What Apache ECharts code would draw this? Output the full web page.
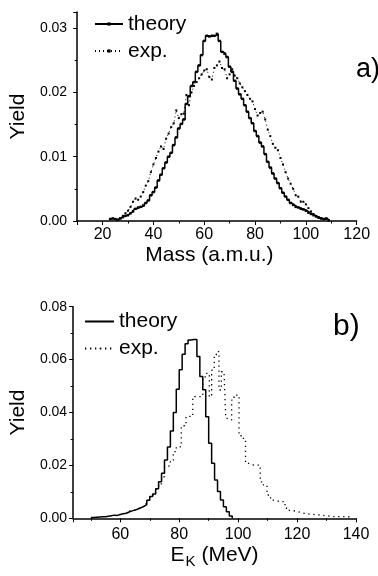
<!DOCTYPE html>
<html><head><meta charset="utf-8">
<script src="https://cdn.jsdelivr.net/npm/echarts@6/dist/echarts.min.js"></script>
<style>html,body{margin:0;padding:0;background:#fff}#c{width:378px;height:576px}</style>
</head><body><div id="c"></div>
<script>
// Panel a) Mass distribution
const massTheory = [23,24,25,26,27,28,29,30,31,32,33,34,35,36,37,38,39,40,41,42,43,44,45,46,47,48,49,50,51,52,53,54,55,56,57,58,59,60,61,62,63,64,65,66,67,68,69,70,71,72,73,74,75,76,77,78,79,80,81,82,83,84,85,86,87,88,89,90,91,92,93,94,95,96,97,98,99,100,101,102,103,104,105,106,107,108,109];
const yieldTheoryA = [0.0003,0.0004,0.0003,0.0002,0.0004,0.0006,0.0008,0.0009,0.0012,0.0015,0.0019,0.0021,0.0022,0.0024,0.0028,0.0032,0.0040,0.0045,0.0052,0.0063,0.0072,0.0082,0.0091,0.0100,0.0106,0.0118,0.0130,0.0144,0.0151,0.0158,0.0182,0.0194,0.0210,0.0216,0.0232,0.0242,0.0258,0.0280,0.0288,0.0287,0.0288,0.0288,0.0291,0.0280,0.0263,0.0260,0.0255,0.0240,0.0232,0.0218,0.0206,0.0197,0.0190,0.0180,0.0170,0.0160,0.0152,0.0140,0.0132,0.0122,0.0116,0.0104,0.0092,0.0083,0.0074,0.0066,0.0059,0.0051,0.0044,0.0038,0.0033,0.0028,0.0025,0.0022,0.0021,0.0019,0.0018,0.0016,0.0013,0.0011,0.0009,0.0007,0.0005,0.0004,0.0003,0.0004,0.0001];
const massExp = [27,28,29,30,31,32,33,34,35,36,37,38,39,40,41,42,43,44,45,46,47,48,49,50,51,52,53,54,55,56,57,58,59,60,61,62,63,64,65,66,67,68,69,70,71,72,73,74,75,76,77,78,79,80,81,82,83,84,85,86,87,88,89,90,91,92,93,94,95,96,97,98,99,100,101,102,103,104,105,106,107];
const yieldExpA = [0.0004,0.0008,0.0012,0.0016,0.0022,0.0030,0.0035,0.0033,0.0038,0.0045,0.0055,0.0062,0.0076,0.0088,0.0098,0.0108,0.0116,0.0112,0.0128,0.0136,0.0146,0.0152,0.0172,0.0160,0.0166,0.0167,0.0196,0.0180,0.0200,0.0210,0.0216,0.0222,0.0228,0.0234,0.0236,0.0224,0.0220,0.0238,0.0242,0.0248,0.0238,0.0236,0.0222,0.0228,0.0236,0.0226,0.0222,0.0214,0.0208,0.0202,0.0196,0.0190,0.0186,0.0174,0.0164,0.0168,0.0170,0.0158,0.0142,0.0132,0.0120,0.0114,0.0110,0.0098,0.0088,0.0076,0.0066,0.0058,0.0050,0.0040,0.0038,0.0030,0.0030,0.0026,0.0020,0.0015,0.0011,0.0008,0.0006,0.0004,0.0003];

// Panel b) Kinetic energy distribution
const energyTheory = [50,51,52,53,54,55,56,57,58,59,60,61,62,63,64,65,66,67,68,69,70,71,72,73,74,75,76,77,78,79,80,81,82,83,84,85,86,87,88,89,90,91,92,93,94,95,96,97,98];
const yieldTheoryB = [0.0003,0.0004,0.0005,0.0006,0.0006,0.0008,0.0010,0.0012,0.0011,0.0014,0.0017,0.0019,0.0024,0.0028,0.0031,0.0035,0.0040,0.0045,0.0052,0.0068,0.0082,0.0092,0.0112,0.0138,0.0170,0.0220,0.0270,0.0330,0.0400,0.0488,0.0562,0.0620,0.0660,0.0674,0.0676,0.0676,0.0612,0.0536,0.0486,0.0384,0.0284,0.0208,0.0145,0.0101,0.0069,0.0044,0.0025,0.0009,0.0000];
const energyExp = [63,64,65,66,67,68,69,70,71,72,73,74,75,76,77,78,79,80.7,82.3,84.6,88.0,89.1,90.2,91.0,91.9,92.6,93.5,94.3,95.2,95.8,96.9,97.8,98.6,100.3,101.0,102.5,103.6,105.3,107.5,108.5,109.8,111.0,112.5,114.2,115.9,117.0,118.2,120.4,122.5,124.9,128.2,132.7,137.2,139];
const yieldExpB = [0.0028,0.0032,0.0036,0.0040,0.0044,0.0055,0.0068,0.0080,0.0095,0.0110,0.0130,0.0157,0.0195,0.0200,0.0220,0.0252,0.0270,0.0350,0.0385,0.0460,0.0535,0.0548,0.0460,0.0560,0.0617,0.0630,0.0485,0.0554,0.0560,0.0378,0.0372,0.0447,0.0466,0.0315,0.0302,0.0208,0.0201,0.0201,0.0138,0.0126,0.0088,0.0069,0.0063,0.0063,0.0038,0.0030,0.0025,0.0019,0.0015,0.0012,0.0006,0.0006,0.0004,0.0004];

const legendNames = ['theory', 'exp.'];
const xTitleA = 'Mass (a.m.u.)';
const yTitle = 'Yield';

const zip = (xs, ys) => xs.map((x, i) => [x, ys[i]]);
const FONT = 'Liberation Sans, Arial, sans-serif';
const axisLineStyle = { color: '#000', width: 1.5 };

function xAxisCfg(grid, min, max, name, nameGap, extra) {
  return Object.assign({
    type: 'value', gridIndex: grid, min: min, max: max,
    name: name, nameLocation: 'middle', nameGap: nameGap,
    nameTextStyle: { fontFamily: FONT, fontSize: 21, color: '#000', padding: [0, 15, 0, 0] },
    axisLine: { show: true, onZero: false, lineStyle: axisLineStyle },
    axisTick: { show: true, inside: false, length: 4, lineStyle: { color: '#000', width: 1 } },
    minorTick: { show: true, splitNumber: 2, length: 2.5, lineStyle: { color: '#000', width: 1 } },
    splitLine: { show: false },
    axisLabel: { fontFamily: FONT, fontSize: 16, color: '#000', margin: 6,
      showMinLabel: false,
      formatter: v => (Math.abs(v % 20) < 1e-9 ? String(v) : '') }
  }, extra || {});
}
function yAxisCfg(grid, max, interval, nameGap, margin) {
  return {
    type: 'value', gridIndex: grid, min: 0, max: max, interval: interval,
    name: yTitle, nameLocation: 'middle', nameGap: nameGap,
    nameTextStyle: { fontFamily: FONT, fontSize: 21, color: '#000' },
    axisLine: { show: true, lineStyle: axisLineStyle },
    axisTick: { show: true, inside: false, length: 4, lineStyle: { color: '#000', width: 1 } },
    minorTick: { show: true, splitNumber: 2, length: 2.5, lineStyle: { color: '#000', width: 1 } },
    splitLine: { show: false },
    axisLabel: { fontFamily: FONT, fontSize: 14, color: '#000', margin: margin,
      formatter: v => { const k = v / interval; return Math.abs(k - Math.round(k)) < 1e-6 ? v.toFixed(2) : ''; } }
  };
}

const chart = echarts.init(document.getElementById('c'), null, { renderer: 'canvas' });
chart.setOption({
  animation: false,
  backgroundColor: '#fff',
  title: [
    { text: 'a)', left: 356, top: 56, padding: 0, textStyle: { fontFamily: FONT, fontSize: 27, fontWeight: 'normal', color: '#000' } },
    { text: 'b)', left: 333, top: 312, padding: 0, textStyle: { fontFamily: FONT, fontSize: 30, fontWeight: 'normal', color: '#000' } }
  ],
  grid: [
    { left: 76.7, right: 21.3, top: 12, height: 209, containLabel: false },
    { left: 68.3, right: 22, top: 306.7, height: 211.6, containLabel: false }
  ],
  legend: [
    { orient: 'vertical', left: 89, top: 8.5, itemWidth: 28, itemHeight: 4, itemGap: 6,
      data: legendNames, textStyle: { fontFamily: FONT, fontSize: 21, color: '#000', lineHeight: 21 } },
    { orient: 'vertical', left: 79, top: 306, itemWidth: 29, itemHeight: 1, itemGap: 6,
      data: legendNames.map(n => n + ' (b)'), formatter: n => n.replace(' (b)', ''),
      textStyle: { fontFamily: FONT, fontSize: 21, color: '#000', lineHeight: 21 } }
  ],
  xAxis: [
    xAxisCfg(0, 10, 120, xTitleA, 24),
    xAxisCfg(1, 44, 140, '{a|E}{b|K}{a| (MeV)}', 26, {
      nameTextStyle: { fontFamily: FONT, color: '#000',
        rich: { a: { fontFamily: FONT, fontSize: 21, color: '#000', verticalAlign: 'top', lineHeight: 24 },
                b: { fontFamily: FONT, fontSize: 15, color: '#000', verticalAlign: 'top', lineHeight: 24, padding: [10, 0, 0, 1] } } },
      axisLabel: { fontFamily: FONT, fontSize: 16, color: '#000', margin: 8, showMinLabel: false,
        formatter: v => (Math.abs(v % 20) < 1e-9 ? String(v) : '') }
    })
  ],
  yAxis: [
    yAxisCfg(0, 0.0325, 0.01, 42, 10),
    yAxisCfg(1, 0.08, 0.02, 42, 6)
  ],
  series: [
    { name: 'theory', type: 'line', xAxisIndex: 0, yAxisIndex: 0, step: 'middle',
      data: zip(massTheory, yieldTheoryA), symbol: 'rect', symbolSize: 2.5, showSymbol: true,
      itemStyle: { color: '#000' }, lineStyle: { color: '#000', width: 1.5 } },
    { name: 'exp.', type: 'line', xAxisIndex: 0, yAxisIndex: 0,
      data: zip(massExp, yieldExpA), symbol: 'rect', symbolSize: 2, showSymbol: true,
      itemStyle: { color: '#000' }, lineStyle: { color: '#000', width: 1, type: [1, 3] } },
    { name: 'theory (b)', type: 'line', xAxisIndex: 1, yAxisIndex: 1, step: 'end',
      data: zip(energyTheory, yieldTheoryB), symbol: 'none',
      itemStyle: { color: '#000' }, lineStyle: { color: '#000', width: 1.5 } },
    { name: 'exp. (b)', type: 'line', xAxisIndex: 1, yAxisIndex: 1, step: 'end',
      data: zip(energyExp, yieldExpB), symbol: 'none',
      itemStyle: { color: '#000' }, lineStyle: { color: '#000', width: 1.3, type: [1.3, 3.7] } }
  ]
});
</script>
</body></html>
